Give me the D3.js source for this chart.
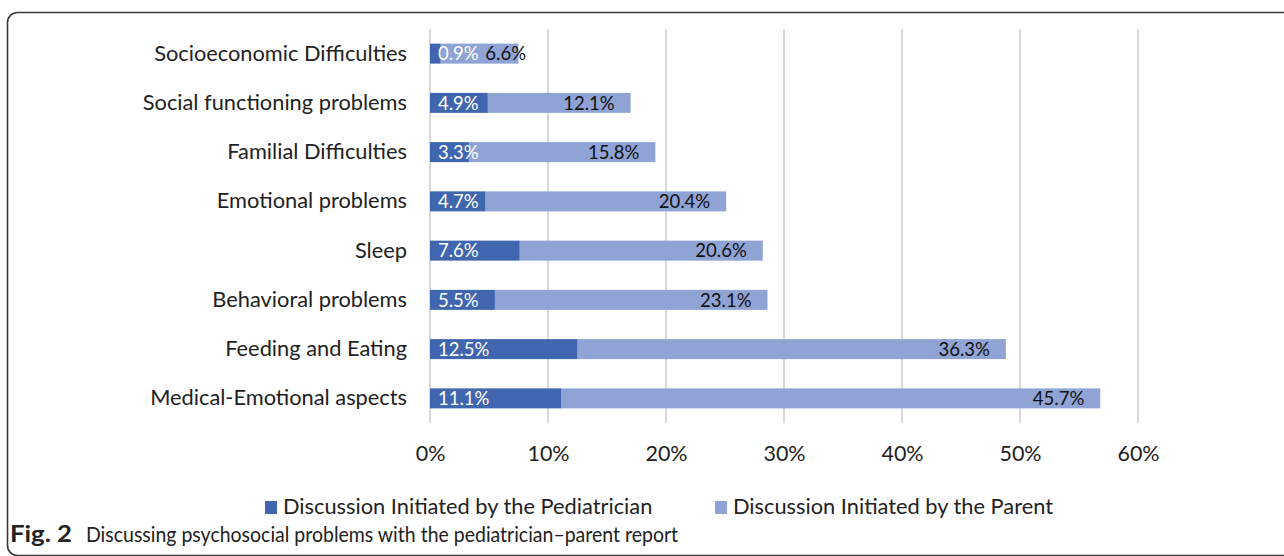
<!DOCTYPE html>
<html>
<head>
<meta charset="utf-8">
<script src="https://cdn.jsdelivr.net/npm/d3@7"></script>
<style>
  html, body { margin: 0; padding: 0; background: #fff; }
  svg { display: block; }
  text { font-family: Lato, "Open Sans", sans-serif; }
</style>
</head>
<body>
<svg id="chart" width="1284" height="556"></svg>
<script>
const categories = [
  "Socioeconomic Difficulties",
  "Social functioning problems",
  "Familial Difficulties",
  "Emotional problems",
  "Sleep",
  "Behavioral problems",
  "Feeding and Eating",
  "Medical-Emotional aspects"
];
const pediatrician = [0.9, 4.9, 3.3, 4.7, 7.6, 5.5, 12.5, 11.1];
const parent = [6.6, 12.1, 15.8, 20.4, 20.6, 23.1, 36.3, 45.7];
const tickValues = [0, 10, 20, 30, 40, 50, 60];
const seriesNames = ["Discussion Initiated by the Pediatrician", "Discussion Initiated by the Parent"];
const colors = ["#4166b0", "#8fa3d5"];

const svg = d3.select("#chart");

// frame
svg.append("rect")
  .attr("x", 7.5).attr("y", 12.5)
  .attr("width", 1320).attr("height", 543)
  .attr("rx", 10).attr("ry", 10)
  .attr("fill", "none").attr("stroke", "#3a3a3a").attr("stroke-width", 1.6);

const x = d3.scaleLinear().domain([0, 60]).range([430, 1138]);
const y = d3.scaleBand().domain(categories).range([29, 423]).paddingInner(0.6).paddingOuter(0.3);

// gridlines
svg.append("g").selectAll("line").data(tickValues).join("line")
  .attr("x1", d => x(d)).attr("x2", d => x(d))
  .attr("y1", 29).attr("y2", 423)
  .attr("stroke", "#d9d9d9").attr("stroke-width", 2);

// x axis tick labels
const xAxis = d3.axisBottom(x).tickValues(tickValues).tickFormat(d => d + "%").tickSize(0).tickPadding(0);
const gx = svg.append("g").attr("transform", "translate(0,441)").call(xAxis);
gx.select(".domain").remove();
gx.selectAll("text").attr("font-size", 21.5).attr("fill", "#222").attr("font-family", "Lato, 'Open Sans', sans-serif").attr("dy", "0.95em");

// y axis labels
const yAxis = d3.axisLeft(y).tickSize(0).tickPadding(0);
const gy = svg.append("g").attr("transform", "translate(407,0)").call(yAxis);
gy.select(".domain").remove();
gy.selectAll("text").attr("font-size", 21.8).attr("fill", "#222").attr("font-family", "Lato, 'Open Sans', sans-serif");

// bars
const rows = categories.map((c, i) => ({ c, a: pediatrician[i], b: parent[i] }));
const bh = 20;
const g = svg.append("g");
g.selectAll("rect.par").data(rows).join("rect").attr("class", "par")
  .attr("x", d => x(d.a)).attr("width", d => x(d.a + d.b) - x(d.a))
  .attr("y", d => y(d.c) + y.bandwidth() / 2 - bh / 2).attr("height", bh)
  .attr("fill", colors[1]);
g.selectAll("rect.ped").data(rows).join("rect").attr("class", "ped")
  .attr("x", x(0)).attr("width", d => x(d.a) - x(0))
  .attr("y", d => y(d.c) + y.bandwidth() / 2 - bh / 2).attr("height", bh)
  .attr("fill", colors[0]);

// labels
g.selectAll("text.ped").data(rows).join("text").attr("class", "ped")
  .attr("x", x(0) + 8).attr("y", d => y(d.c) + y.bandwidth() / 2)
  .attr("dy", "0.36em").attr("font-size", 18.5).attr("fill", "#fff")
  .text(d => d.a.toFixed(1) + "%");
g.selectAll("text.par").data(rows).join("text").attr("class", "par")
  .attr("x", d => Math.max(x(d.a + d.b) - 16, x(0) + 96))
  .attr("y", d => y(d.c) + y.bandwidth() / 2)
  .attr("text-anchor", "end")
  .attr("dy", "0.36em").attr("font-size", 18.5).attr("fill", "#111")
  .text(d => d.b.toFixed(1) + "%");

// legend
const legX = [265, 715];
const leg = svg.append("g").selectAll("g").data(seriesNames).join("g")
  .attr("transform", (d, i) => `translate(${legX[i]},501)`);
leg.append("rect").attr("width", 12).attr("height", 13).attr("fill", (d, i) => colors[i]);
leg.append("text").attr("x", 18).attr("y", 13).attr("font-size", 21.8).attr("fill", "#222").text(d => d);

// caption
const cap = svg.append("text").attr("x", 10).attr("y", 542).attr("font-size", 22).attr("fill", "#222")
  .attr("font-family", "'Open Sans', Lato, sans-serif");
cap.append("tspan").attr("font-weight", "bold").text("Fig. 2")
  .attr("textLength", 62).attr("lengthAdjust", "spacingAndGlyphs");
cap.append("tspan").attr("x", 86).text("Discussing psychosocial problems with the pediatrician–parent report")
  .attr("textLength", 592).attr("lengthAdjust", "spacingAndGlyphs");
</script>
</body>
</html>
